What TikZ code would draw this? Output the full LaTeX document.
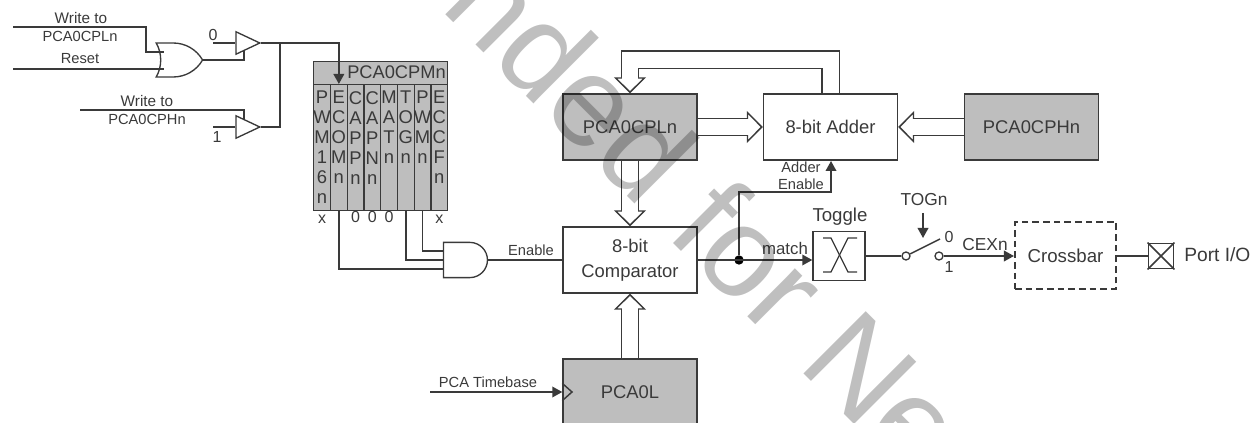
\documentclass[tikz,border=0pt]{standalone}
\usepackage{fontspec}
\setmainfont{Liberation Sans}
\usetikzlibrary{arrows.meta,calc,positioning,shapes.gates.logic.US}
\definecolor{inkStroke}{HTML}{3A3A3A}
\definecolor{regFill}{HTML}{BEBEBE}
\newcommand{\fs}[1]{\fontsize{#1}{#1}\selectfont}
\begin{document}
\begin{tikzpicture}[
  x=0.75pt,y=-0.75pt,
  >={Triangle[length=7.5pt,width=8pt]},
  every node/.style={text=inkStroke,inner sep=0pt},
  block/.style={rectangle,draw=inkStroke,line width=1.1pt,fill=white,minimum width=100.5pt,minimum height=49.5pt,align=center,font=\fs{13.8}},
  grayblock/.style={block,fill=regFill},
  lbl/.style={font=\fs{11},align=center},
  bit/.style={font=\fs{12},anchor=north},
  regcol/.style={rectangle,draw=inkStroke,line width=1.1pt,fill=regFill,minimum width=12.56pt,minimum height=94.5pt,anchor=north west},
  regtxt/.style={font=\fontsize{13.8}{15}\selectfont,align=center,anchor=north},
  wire/.style={draw=inkStroke,line width=1.1pt},
  gate/.style={draw=inkStroke,line width=1pt,fill=white,inner sep=0pt},
  buffer/.style={gate,buffer gate US,minimum width=13pt,minimum height=14.4pt},
  bus/.style={wire,double=white,double distance=12pt,
    -{Triangle[open,length=12pt,width=24pt,fill=white,line width=1.1pt 0 0]},
    postaction={draw=white,line width=12pt,double=none,-,shorten >=10.5pt,shorten <=1pt}}
]
\clip (0,0) rectangle (1250,423);
% Gates on the left feeding the mode register
\node[gate,or gate US,logic gate inputs=nn,logic gate input sep=8.5pt,minimum width=32pt,minimum height=25pt] (orgate) at (176,60) {};
\node[buffer] (buf0) at (244,43) {};
\node[buffer] (buf1) at (244,127) {};
\coordinate (wrlow) at (13,27);
\coordinate (wrbend) at (146,52);
\coordinate (rstin) at (13,69);
\coordinate (wrhigh) at (80,110);
\coordinate (in0) at (213,43);
\coordinate (in1) at (213,127);
\coordinate (busjoin) at (280,43);
\node[lbl,font=\fs{11.5}] (wrlowA) at (81,18) {Write to};
\node[lbl] (wrlowB) at (80,36) {PCA0CPLn};
\node[lbl] (rstlbl) at (80,59) {Reset};
\node[bit] (zero) at (213,29) {0};
\node[bit] (one) at (217,131) {1};
\node[lbl,font=\fs{11.5}] (wrhighA) at (147,101) {Write to};
\node[lbl] (wrhighB) at (147,119) {PCA0CPHn};
% Mode register, one column per bit
\node[rectangle,draw=inkStroke,line width=1.1pt,fill=regFill,minimum width=100.5pt,minimum height=17.25pt,anchor=north west] (reghead) at (313,61) {};
\node[font=\fs{13.7},anchor=east] (regname) at (446,72) {PCA0CPMn};
\foreach \colname/\coltxt [count=\i] in {a/{P\\W\\M\\1\\6\\n},b/{E\\C\\O\\M\\n},c/{C\\A\\P\\P\\n},d/{C\\A\\P\\N\\n},e/{M\\A\\T\\n},f/{T\\O\\G\\n},g/{P\\W\\M\\n},h/{E\\C\\C\\F\\n}}{
  \node[regcol] (col\colname) at ({313+(\i-1)*16.75},84) {};
  \node[regtxt] (txt\colname) at ($(col\colname.north)+(0,7)$) {\coltxt};
}
\node[bit] (bita) at ($(cola.south)+(0,3)$) {x};
\node[bit] (bitc) at ($(colc.south)+(0,0)$) {0};
\node[bit] (bitd) at ($(cold.south)+(0,0)$) {0};
\node[bit] (bite) at ($(cole.south)+(0,0)$) {0};
\node[bit] (bith) at ($(colh.south)+(0,3)$) {x};
% Blocks
\node[gate,and gate US,logic gate inputs=nnn,logic gate input sep=5.6pt,minimum width=33pt,minimum height=26pt] (andgate) at (464,260) {};
\node[grayblock] (cpl) at (630,127) {PCA0CPLn};
\node[block] (comp) at (630,260) {8-bit\\[5pt]Comparator};
\node[grayblock] (pcal) at (630,392) {PCA0L};
\node[block] (adder) at (830.5,127) {8-bit Adder};
\node[grayblock] (cph) at (1031.5,127) {PCA0CPHn};
\node[rectangle,draw=inkStroke,line width=1.1pt,fill=white,minimum width=39pt,minimum height=37pt] (toggle) at (839,256) {};
\node[rectangle,draw=inkStroke,line width=1.3pt,dash pattern=on 5pt off 3pt,fill=white,minimum width=76pt,minimum height=50pt,font=\fs{14}] (xbar) at (1065.5,255.5) {Crossbar};
\node[rectangle,draw=inkStroke,line width=1.1pt,fill=white,minimum width=19pt,minimum height=19pt] (port) at (1161,256) {};
\node[circle,draw=inkStroke,line width=1pt,fill=white,minimum size=6pt] (swa) at (906,256) {};
\node[circle,draw=inkStroke,line width=1pt,fill=white,minimum size=6pt] (swb) at (939,256) {};
\coordinate (swtop) at (940,239);
\coordinate (togtop) at (923,213);
\coordinate (togtip) at (923,238);
\coordinate (tbase) at (430,392);
\coordinate (clk) at (572,392);
\coordinate (addbend) at (739,192);
\coordinate (addtip) at (831,161);
\node[circle,fill=black,minimum size=7pt] (dot) at (739,260) {};
% Labels
\node[lbl] (enlbl) at (531,250) {Enable};
\node[lbl] (addA) at (801,167) {Adder};
\node[lbl] (addB) at (801,184) {Enable};
\node[font=\fs{12.6}] (matchlbl) at (785,249) {match};
\node[font=\fs{14}] (togglelbl) at (840,217) {Toggle};
\node[font=\fs{13}] (tognlbl) at (924,200) {TOGn};
\node[bit] (sw0) at (949,231) {0};
\node[bit] (sw1) at (949,261) {1};
\node[font=\fs{13}] (cexlbl) at (985,245) {CEXn};
\node[font=\fs{14.4},anchor=west] (portlbl) at (1184,255) {Port I/O};
\node[lbl] (tblbl) at (488,382) {PCA Timebase};
% Wires
\draw[wire] (wrlow) -| (wrbend) -- ([xshift=3pt]wrbend -| orgate.west);
\draw[wire] (rstin) -- ([xshift=3pt]rstin -| orgate.west);
\draw[wire] (orgate.output) -| (buf0.south);
\draw[wire] (in0) -- (buf0.input);
\draw[wire] (in1) -- (buf1.input);
\draw[wire] (wrhigh) -| (buf1.north);
\draw[wire,->] (buf0.output) -| (colb.north);
\draw[wire] (buf1.output) -| (busjoin);
\draw[wire] (colb.south) |- (andgate.input 3);
\draw[wire] (colf.south) |- (andgate.input 2);
\draw[wire] (colg.south) |- (andgate.input 1);
\draw[wire] (andgate.output) -- (comp.west |- andgate.output);
\draw[wire,->] (comp.east) -- (toggle.west |- comp.east);
\draw[wire,->] (dot) |- (addbend) -| (addtip);
\draw[wire,->] (tbase) -- (pcal.west |- tbase);
\draw[wire,line join=miter] ([yshift=-6.5pt]pcal.west) -- (clk) -- ([yshift=6.5pt]pcal.west);
\draw[wire] (toggle.east) -- (swa);
\draw[wire] (swa) -- (swtop);
\draw[wire,->] (swb) -- (xbar.west |- swb);
\draw[wire,->] (togtop) -- (togtip);
\draw[wire] (xbar.east |- port) -- (port.west);
\draw[wire] (port.north west) -- (port.south east) (port.north east) -- (port.south west);
% Toggle symbol
\draw[wire,line width=.9pt] ($(toggle.center)+(-16,-18)$) -- ++(8,0) -- ++(17,34) -- ++(9,0);
\draw[wire,line width=.9pt] ($(toggle.center)+(-16,16)$) -- ++(8,0) -- ++(17,-34) -- ++(9,0);
% Buses
\draw[bus] (cpl.east) -- (adder.west);
\draw[bus] (cph.west) -- (adder.east);
\draw[bus] (cpl.south) -- (comp.north);
\draw[bus] (pcal.north) -- (comp.south);
\draw[bus] (adder.north) -- ++(0,-33.5) -| (cpl.north);
% Overprint
\node[rotate=-45,font=\fs{96},text=black,opacity=.25] (stamp) at (708,213) {nded for Ne};
\end{tikzpicture}
\end{document}
